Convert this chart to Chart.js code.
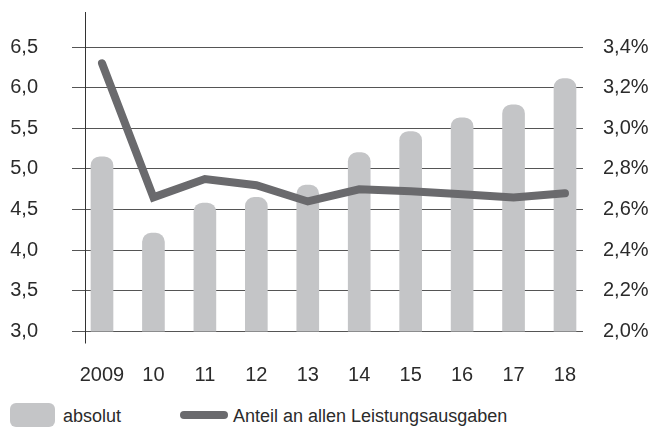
<!DOCTYPE html>
<html>
<head>
<meta charset="utf-8">
<script src="https://cdn.jsdelivr.net/npm/chart.js@4/dist/chart.umd.min.js"></script>
<style>
  html, body { margin: 0; padding: 0; background: #fff; }
  #wrap { position: relative; width: 656px; height: 427px; overflow: hidden; font-family: 'Liberation Sans', Arial, sans-serif; color: #2b2b2b; }
  #box { position: absolute; left: 0; top: 0; width: 656px; height: 395px; }
  .lg { position: absolute; font-size: 18px; line-height: 22px; }
  .sw { position: absolute; }
</style>
</head>
<body>
<div id="wrap">
  <div id="box"><canvas id="c"></canvas></div>
  <div class="sw" style="left:10px;top:403px;width:45px;height:24px;border-radius:6px;background:#c4c5c7"></div>
  <div class="lg" style="left:63px;top:405px">absolut</div>
  <div class="sw" style="left:180px;top:411px;width:48px;height:8px;border-radius:4px;background:#6a6a6d"></div>
  <div class="lg" style="left:233px;top:405px">Anteil an allen Leistungsausgaben</div>
</div>
<script>
  // Jahre und Werte
  const years = ['2009', '10', '11', '12', '13', '14', '15', '16', '17', '18'];
  const absolut = [5.15, 4.21, 4.58, 4.65, 4.80, 5.20, 5.46, 5.63, 5.79, 6.11];
  const anteil = [3.32, 2.66, 2.75, 2.72, 2.64, 2.70, 2.69, 2.675, 2.66, 2.68];
  const leftTicks = [3.0, 3.5, 4.0, 4.5, 5.0, 5.5, 6.0, 6.5];
  const rightTicks = [2.0, 2.2, 2.4, 2.6, 2.8, 3.0, 3.2, 3.4];

  const de = v => v.toFixed(1).replace('.', ',');
  const tickFont = { family: "'Liberation Sans', Arial, sans-serif", size: 20 };

  // senkrechte Achsenlinie links
  const axisLine = {
    id: 'axisLine',
    afterDraw(chart) {
      const { ctx, chartArea, scales } = chart;
      const x = Math.round(scales.x.getPixelForValue(-0.33)) + 0.5;
      ctx.save();
      ctx.strokeStyle = '#333';
      ctx.lineWidth = 1;
      ctx.beginPath();
      ctx.moveTo(x, chartArea.top - 35);
      ctx.lineTo(x, chartArea.bottom + 12);
      ctx.stroke();
      ctx.restore();
    }
  };

  new Chart(document.getElementById('c'), {
    data: {
      datasets: [
        {
          type: 'line', label: 'Anteil an allen Leistungsausgaben',
          data: anteil.map((v, i) => ({ x: i, y: v })), yAxisID: 'y1', order: 0,
          borderColor: '#6a6a6d', borderWidth: 8, pointRadius: 0, tension: 0,
          borderCapStyle: 'round', borderJoinStyle: 'miter'
        },
        {
          type: 'bar', label: 'absolut',
          data: absolut.map((v, i) => ({ x: i, y: v })), yAxisID: 'y', order: 1,
          backgroundColor: '#c4c5c7', barThickness: 22,
          borderRadius: { topLeft: 9, topRight: 9 }, borderSkipped: 'bottom'
        }
      ]
    },
    options: {
      responsive: true, maintainAspectRatio: false, animation: false,
      layout: { padding: { top: 47, left: 0, right: 0, bottom: 0 } },
      plugins: { legend: { display: false }, tooltip: { enabled: false } },
      scales: {
        x: {
          type: 'linear', min: -0.583, max: 9.35, offset: false,
          grid: { display: false }, border: { display: false },
          afterBuildTicks: s => { s.ticks = years.map((_, i) => ({ value: i })); },
          afterFit: s => { s.height = 63.5; },
          ticks: { color: '#2b2b2b', font: tickFont, padding: 24, maxRotation: 0, autoSkip: false, callback: v => years[v] }
        },
        y: {
          position: 'left', min: 3.0, max: 6.5,
          grid: { color: '#555', lineWidth: 1, drawTicks: false }, border: { display: false },
          afterBuildTicks: s => { s.ticks = leftTicks.map(v => ({ value: v })); },
          afterFit: s => { s.width = 72; },
          ticks: { color: '#2b2b2b', font: tickFont, padding: 34, callback: v => de(v) }
        },
        y1: {
          position: 'right', min: 2.0, max: 3.4,
          grid: { display: false, drawTicks: false }, border: { display: false },
          afterBuildTicks: s => { s.ticks = rightTicks.map(v => ({ value: v })); },
          afterFit: s => { s.width = 73; },
          ticks: { color: '#2b2b2b', font: tickFont, padding: 20, callback: v => de(v) + '%' }
        }
      }
    },
    plugins: [axisLine]
  });
</script>
</body>
</html>
